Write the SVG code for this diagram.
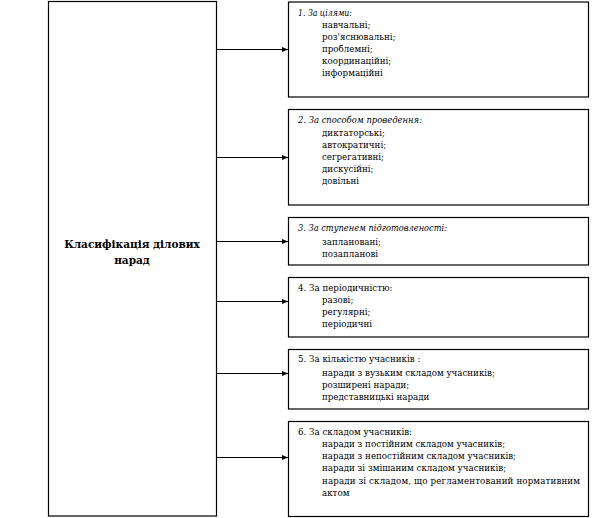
<svg xmlns="http://www.w3.org/2000/svg" width="613" height="518" viewBox="0 0 613 518">
<style>
.box{fill:#fff;stroke:#000;stroke-width:1.2}
.t{font-family:DejaVu Serif, serif;font-size:8.7px;fill:#000}
.it{font-style:italic}
.main{font-family:DejaVu Serif, serif;font-size:10.5px;font-weight:bold;fill:#000;text-anchor:middle}
.con{stroke:#000;stroke-width:1.2;fill:none;marker-end:url(#ah)}
</style>
<defs>
<marker id="ah" markerWidth="6" markerHeight="6" refX="6" refY="3" orient="auto" markerUnits="userSpaceOnUse">
<path d="M0,0.5 L6,3 L0,5.5 Z" fill="#000"/>
</marker>
</defs>
<rect width="613" height="518" fill="#fff"/>
<g id="connectors">
<line class="con" x1="216.5" y1="49.5" x2="288" y2="49.5"/>
<line class="con" x1="216.5" y1="157.5" x2="288" y2="157.5"/>
<line class="con" x1="216.5" y1="241.5" x2="288" y2="241.5"/>
<line class="con" x1="216.5" y1="301.5" x2="288" y2="301.5"/>
<line class="con" x1="216.5" y1="373.5" x2="288" y2="373.5"/>
<line class="con" x1="216.5" y1="457.5" x2="288" y2="457.5"/>
</g>
<g id="main">
<rect class="box" x="48.5" y="1.5" width="168" height="514.5"/>
<text class="main" x="132" y="248">Класифікація ділових</text>
<text class="main" x="132" y="264">нарад</text>
</g>
<g id="n1">
<rect class="box" x="288.5" y="2" width="300" height="95"/>
<text class="t it" x="298" y="16" textLength="54" lengthAdjust="spacingAndGlyphs">1. За цілями:</text>
<text class="t" x="322" y="28">навчальні;</text>
<text class="t" x="322" y="40">роз'яснювальні;</text>
<text class="t" x="322" y="52">проблемні;</text>
<text class="t" x="322" y="64">координаційні;</text>
<text class="t" x="322" y="76">інформаційні</text>
</g>
<g id="n2">
<rect class="box" x="288.5" y="109.5" width="300" height="95.5"/>
<text class="t it" x="298" y="123" textLength="124" lengthAdjust="spacingAndGlyphs">2. За способом проведення:</text>
<text class="t" x="322" y="136">диктаторські;</text>
<text class="t" x="322" y="148">автократичні;</text>
<text class="t" x="322" y="160">сегрегативні;</text>
<text class="t" x="322" y="172">дискусійні;</text>
<text class="t" x="322" y="184">довільні</text>
</g>
<g id="n3">
<rect class="box" x="288.5" y="217.5" width="300" height="47.5"/>
<text class="t it" x="298" y="231" textLength="149" lengthAdjust="spacingAndGlyphs">3. За ступенем підготовленості:</text>
<text class="t" x="322" y="245">заплановані;</text>
<text class="t" x="322" y="257">позапланові</text>
</g>
<g id="n4">
<rect class="box" x="288.5" y="277.5" width="300" height="59.5"/>
<text class="t" x="298" y="291">4. За періодичністю:</text>
<text class="t" x="322" y="303">разові;</text>
<text class="t" x="322" y="315">регулярні;</text>
<text class="t" x="322" y="327">періодичні</text>
</g>
<g id="n5">
<rect class="box" x="288.5" y="349.5" width="300" height="59.5"/>
<text class="t" x="298" y="362">5. За кількістю учасників :</text>
<text class="t" x="322" y="376">наради з вузьким складом учасників;</text>
<text class="t" x="322" y="388">розширені наради;</text>
<text class="t" x="322" y="400">представницькі наради</text>
</g>
<g id="n6">
<rect class="box" x="288.5" y="421.5" width="300" height="95"/>
<text class="t" x="298" y="435">6. За складом учасників:</text>
<text class="t" x="322" y="447">наради з постійним складом учасників;</text>
<text class="t" x="322" y="459">наради з непостійним складом учасників;</text>
<text class="t" x="322" y="471">наради зі змішаним складом учасників;</text>
<text class="t" x="322" y="484" textLength="258" lengthAdjust="spacing">наради зі складом, що регламентований нормативним</text>
<text class="t" x="322" y="496">актом</text>
</g>
</svg>
